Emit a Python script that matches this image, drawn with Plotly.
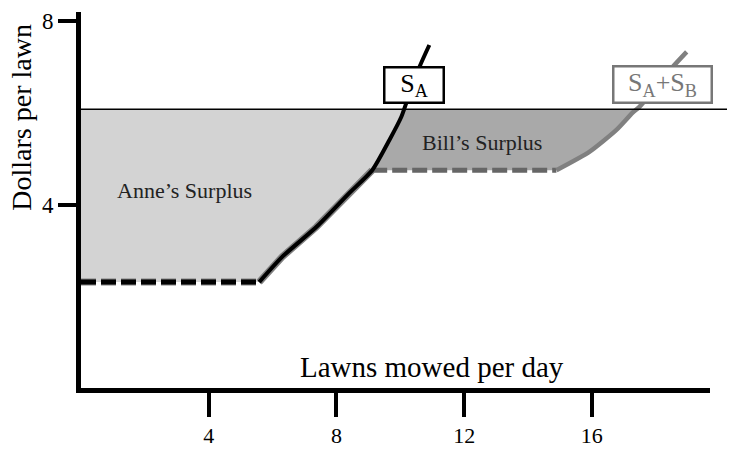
import numpy as np
import plotly.graph_objects as go

# ---- data ----
price = 6.08
anne_min_price = 2.31
bill_min_price = 4.75

# Anne's supply curve (S_A) above her minimum price
sa_q = [5.58, 6.30, 7.37, 8.40, 9.12, 9.66, 10.03, 10.19, 10.60, 10.91]
sa_p = [2.31, 2.86, 3.51, 4.25, 4.75, 5.41, 5.91, 6.22, 7.00, 7.48]

# Market supply (S_A + S_B) after Bill enters
sb_q = [14.89, 15.92, 16.77, 17.27, 17.49, 18.53, 18.97]
sb_p = [4.75, 5.15, 5.63, 6.00, 6.13, 7.00, 7.33]

x_ticks = [4, 8, 12, 16]
y_ticks = [4, 8]

FONT = "Liberation Serif"
LIGHT = "#d3d3d3"
DARK = "#a9a9a9"
GREY = "#808080"
BILL_DASH = "#666666"


def cross_q(qs, ps, level):
    for i in range(len(ps) - 1):
        if ps[i] <= level <= ps[i + 1]:
            t = (level - ps[i]) / (ps[i + 1] - ps[i])
            return qs[i] + t * (qs[i + 1] - qs[i])
    return qs[-1]


sa_cross = cross_q(sa_q, sa_p, price)
sb_cross = cross_q(sb_q, sb_p, price)

# Anne's surplus polygon
anne_x = [0, 0] + [q for q, p in zip(sa_q, sa_p) if p < price] + [sa_cross]
anne_y = [price, anne_min_price] + [p for p in sa_p if p < price] + [price]

# Bill's surplus polygon
up_q = [q for q, p in zip(sa_q, sa_p) if bill_min_price <= p < price]
up_p = [p for p in sa_p if bill_min_price <= p < price]
dn_q = [q for q, p in zip(sb_q, sb_p) if p < price][::-1]
dn_p = [p for p in sb_p if p < price][::-1]
bill_x = up_q + [sa_cross, sb_cross] + dn_q
bill_y = up_p + [price, price] + dn_p

fig = go.Figure()

fig.add_trace(go.Scatter(x=anne_x, y=anne_y, fill="toself", fillcolor=LIGHT,
                         line=dict(width=0), mode="lines", hoverinfo="skip"))
fig.add_trace(go.Scatter(x=bill_x, y=bill_y, fill="toself", fillcolor=DARK,
                         line=dict(width=0), mode="lines", hoverinfo="skip"))

# Market supply (grey), underneath Anne's curve
sa_low = [q for q, p in zip(sa_q, sa_p) if p <= bill_min_price]
sa_low_p = [p for p in sa_p if p <= bill_min_price]
fig.add_trace(go.Scatter(x=[0, sa_q[0]], y=[anne_min_price, anne_min_price], mode="lines",
                         line=dict(color=GREY, width=7, dash="15px,5px")))
fig.add_trace(go.Scatter(x=sa_low, y=sa_low_p, mode="lines",
                         line=dict(color=GREY, width=7)))
fig.add_trace(go.Scatter(x=[sa_low[-1], sb_q[0]], y=[bill_min_price, bill_min_price], mode="lines",
                         line=dict(color=BILL_DASH, width=5, dash="15px,5px")))
fig.add_trace(go.Scatter(x=sb_q, y=sb_p, mode="lines", line_shape="spline",
                         line=dict(color=GREY, width=4.5, smoothing=0.6)))

# Anne's supply (black)
fig.add_trace(go.Scatter(x=[0, sa_q[0]], y=[anne_min_price, anne_min_price], mode="lines",
                         line=dict(color="black", width=5, dash="15px,5px")))
fig.add_trace(go.Scatter(x=sa_q, y=sa_p, mode="lines", line_shape="spline",
                         line=dict(color="black", width=4, smoothing=0.6)))

# Price line
fig.add_shape(type="line", xref="paper", yref="y", x0=0, x1=1.05, y0=price, y1=price,
              line=dict(color="black", width=1.5), layer="above")

annotations = [
    dict(x=11.0, y=0.45, xref="x", yref="y", text="Lawns mowed per day", showarrow=False,
         xanchor="center", yanchor="middle",
         font=dict(family=FONT, size=29, color="black")),
    dict(x=-0.095, y=5.9, xref="paper", yref="y", text="Dollars per lawn", showarrow=False,
         xanchor="center", yanchor="middle",
         textangle=-90, font=dict(family=FONT, size=28, color="black")),
    dict(x=3.25, y=4.3, xref="x", yref="y", text="Anne’s Surplus", showarrow=False,
         xanchor="center", yanchor="middle",
         font=dict(family=FONT, size=22, color="#222222")),
    dict(x=12.55, y=5.35, xref="x", yref="y", text="Bill’s Surplus", showarrow=False,
         xanchor="center", yanchor="middle",
         font=dict(family=FONT, size=22, color="#222222")),
    dict(x=10.42, y=6.6, xref="x", yref="y", text="S<sub>A</sub>", showarrow=False,
         xanchor="center", yanchor="middle",
         font=dict(family=FONT, size=26, color="black"), bgcolor="white",
         bordercolor="black", borderwidth=2.5, borderpad=2, width=53, height=29),
    dict(x=18.22, y=6.61, xref="x", yref="y", text="S<sub>A</sub>+S<sub>B</sub>", showarrow=False,
         xanchor="center", yanchor="middle",
         font=dict(family=FONT, size=26, color="#777777"), bgcolor="white",
         bordercolor="#777777", borderwidth=2.5, borderpad=2, width=92, height=30),
]

fig.update_layout(
    width=727, height=441,
    margin=dict(l=73, r=25, t=4, b=61, autoexpand=False),
    plot_bgcolor="white", paper_bgcolor="white",
    showlegend=False,
    annotations=annotations,
    xaxis=dict(range=[0, 19.7], showgrid=False, zeroline=False, automargin=False,
               showline=True, linecolor="black", linewidth=5,
               tickmode="array", tickvals=x_ticks, ticktext=[str(v) for v in x_ticks],
               ticks="outside", ticklen=24, tickwidth=4, tickcolor="black",
               tickfont=dict(family=FONT, size=22, color="black")),
    yaxis=dict(range=[0, 8.2], showgrid=False, zeroline=False, automargin=False,
               showline=True, linecolor="black", linewidth=5,
               tickmode="array", tickvals=y_ticks, ticktext=[str(v) for v in y_ticks],
               ticks="outside", ticklen=18, tickwidth=4, tickcolor="black",
               tickfont=dict(family=FONT, size=23, color="black")),
)

fig.write_html("out.html")
